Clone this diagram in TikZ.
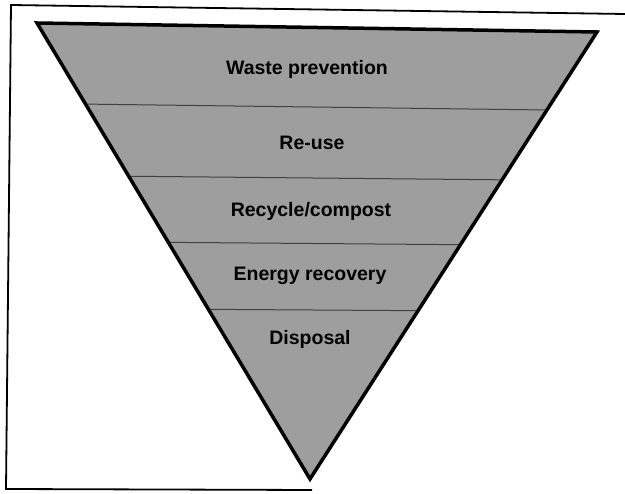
\documentclass[tikz,border=0pt]{standalone}
\usepackage{fontspec}
\setmainfont{Liberation Sans}
\tikzset{
  tier/.style={font=\bfseries\fontsize{19.5}{22}\selectfont, text=black, inner sep=0pt},
  band/.style={draw=black!75, line width=1pt},
  frameline/.style={draw=black, line width=1.8pt},
}
\begin{document}
\begin{tikzpicture}[x=1pt,y=-1pt]
\useasboundingbox (0,0) rectangle (625,494);
\fill[white] (0,0) rectangle (625,494);
% frame
\coordinate (f1) at (625,14);
\coordinate (f2) at (11,5);
\coordinate (f3) at (6,489);
\coordinate (f4) at (312,490);
\draw[frameline] (f1) -- (f2) -- (f3) -- (f4);
% triangle
\coordinate (tl) at (37,23);
\coordinate (tr) at (597,32);
\coordinate (b) at (310,479);
\fill[black!38] (tl) -- (tr) -- (b) -- cycle;
\begin{scope}
\clip (tl) -- (tr) -- (b) -- cycle;
\draw[band] (0,103) -- (625,111);
\draw[band] (0,175) -- (625,181);
\draw[band] (0,241) -- (625,246);
\draw[band] (0,308) -- (625,312);
\end{scope}
\draw[line width=3.5pt, line join=miter] (tl) -- (tr) -- (b) -- cycle;
% labels
\node[tier] (waste) at (307,69) {Waste prevention};
\node[tier] (reuse) at (312,143) {Re-use};
\node[tier] (recycle) at (311,211) {Recycle/compost};
\node[tier] (energy) at (310,276) {Energy recovery};
\node[tier] (disposal) at (310,339) {Disposal};
\end{tikzpicture}
\end{document}
